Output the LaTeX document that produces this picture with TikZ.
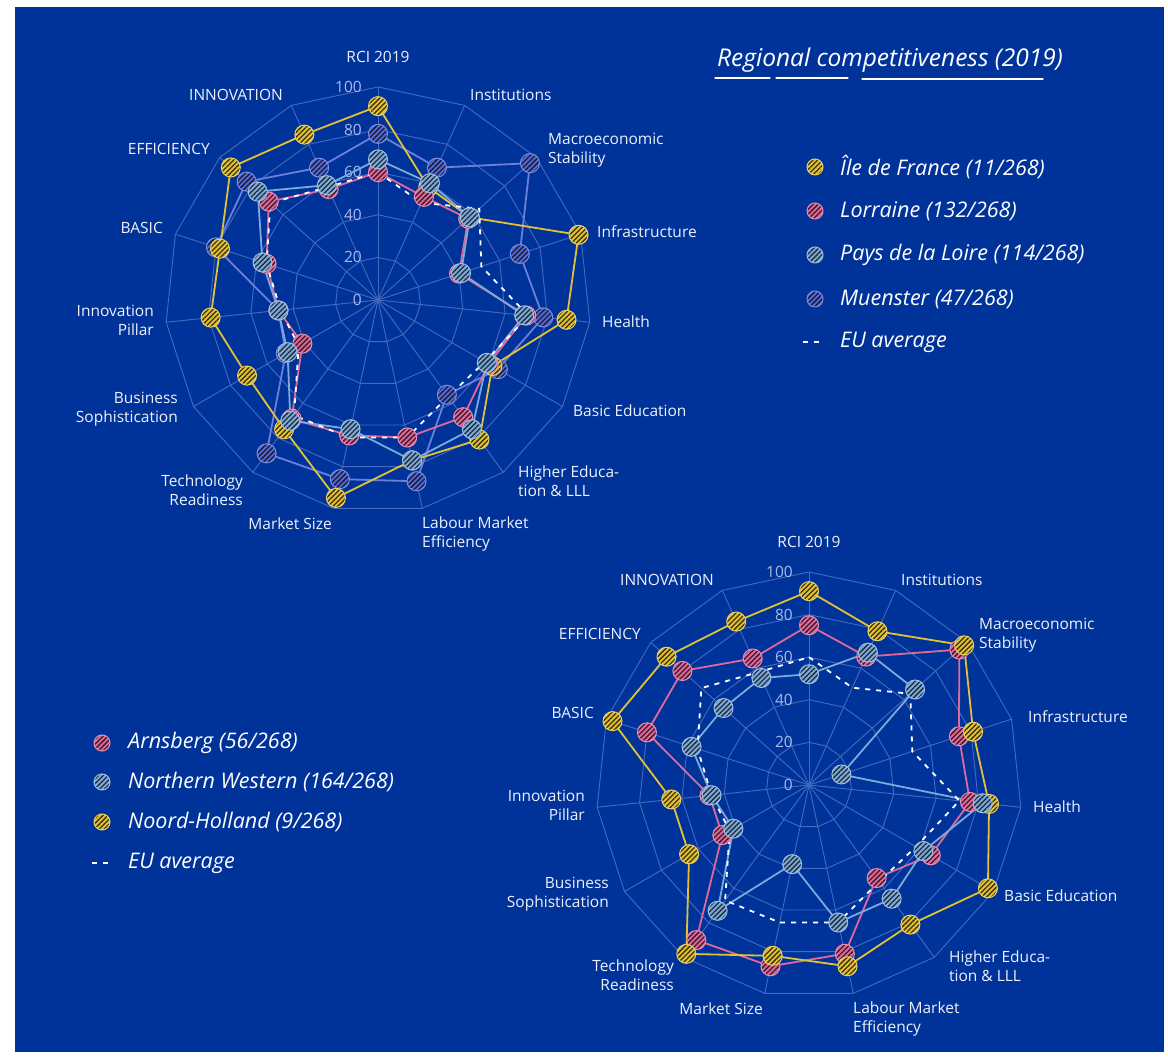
\documentclass[tikz,border=0pt]{standalone}
\usepackage{fontspec}
\setmainfont{Open Sans}
\usetikzlibrary{patterns.meta}

\definecolor{eublue}{RGB}{0,51,153}
\definecolor{gridblue}{RGB}{68,106,192}
\definecolor{tickgray}{RGB}{170,185,232}
\definecolor{labwhite}{RGB}{238,241,250}
\definecolor{idfyellow}{RGB}{226,194,52}
\definecolor{lorpink}{RGB}{224,104,154}
\definecolor{pdlblue}{RGB}{124,170,218}
\definecolor{muenblue}{RGB}{84,104,210}

\tikzset{
  gridline/.style={draw=gridblue, line width=0.9pt},
  seriesline/.style={line width=1.8pt, line join=round},
  eudash/.style={draw=white, line width=1.8pt, dash pattern=on 5pt off 6pt},
  axislabel/.style={font=\fontsize{15.5}{19}\selectfont, text=labwhite, inner sep=0pt},
  ticklabel/.style={font=\fontsize{15.5}{18}\selectfont, text=tickgray, inner sep=0pt, anchor=east},
  legendtext/.style={font=\fontsize{21.5}{24}\selectfont\itshape, text=white, inner sep=0pt, anchor=west},
  titletext/.style={font=\fontsize{24.5}{28}\selectfont\itshape, text=white, inner sep=0pt, anchor=west},
}

% 15 spokes, first one straight up, 2.13pt per index point
\newcommand{\radarpoints}[2]{%
  \foreach \v [count=\k from 0] in {#2}
    \coordinate (#1\k) at (90-24*\k:2.13*\v);
}
\newcommand{\radarline}[2]{%
  \draw[seriesline, draw=#2] (#10) \foreach \k in {1,...,14} {-- (#1\k)} -- cycle;
}
\newcommand{\hatchdot}[3][9.5pt]{%
  \fill[#2] (#3) circle[radius=#1];
  \fill[pattern={Lines[angle=45,distance=3.5pt,line width=1.3pt]}, pattern color=#2!25!black] (#3) circle[radius=#1];
  \draw[#2!75!white, line width=1pt] (#3) circle[radius=#1];
}
\newcommand{\radardots}[2]{%
  \foreach \k in {0,...,14} {\hatchdot{#2}{#1\k}}
}
\newcommand{\radarframe}[1]{%
  \foreach \r in {20,40,...,100}
    \draw[gridline] (90:2.13*\r) \foreach \k in {1,...,14} {-- (90-24*\k:2.13*\r)} -- cycle;
  \foreach \k in {0,...,14}
    \draw[gridline] (0,0) -- (90-24*\k:213);
  \foreach \r in {0,20,...,100}
    \node[ticklabel] (#1tick\r) at (-16,2.13*\r) {\r};
  \node[axislabel] (#1rci) at (0,243) {RCI 2019};
  \node[axislabel, anchor=west] (#1inst) at (92,205) {Institutions};
  \node[axislabel, anchor=west, align=left] (#1macro) at (170,150) {Macroeconomic\\Stability};
  \node[axislabel, anchor=west] (#1infra) at (219,68) {Infrastructure};
  \node[axislabel, anchor=west] (#1health) at (224,-22) {Health};
  \node[axislabel, anchor=west] (#1basiced) at (195,-111) {Basic Education};
  \node[axislabel, anchor=west, align=left] (#1higher) at (140,-181) {Higher Educa-\\tion \& LLL};
  \node[axislabel, anchor=west, align=left] (#1labour) at (44,-234) {Labour Market\\Efficiency};
  \node[axislabel, anchor=east] (#1market) at (-46,-224) {Market Size};
  \node[axislabel, anchor=east, align=right] (#1tech) at (-135,-190) {Technology\\Readiness};
  \node[axislabel, anchor=east, align=right] (#1business) at (-200,-109) {Business\\Sophistication};
  \node[axislabel, anchor=east, align=right] (#1pillar) at (-224,-20) {Innovation\\Pillar};
  \node[axislabel, anchor=east] (#1basic) at (-215,72) {BASIC};
  \node[axislabel, anchor=east] (#1efficiency) at (-168,151) {EFFICIENCY};
  \node[axislabel, anchor=east] (#1innovation) at (-95,205) {INNOVATION};
}

\begin{document}
\begin{tikzpicture}[x=1pt, y=1pt]
  \useasboundingbox (0,0) rectangle (1168,1057);
  \fill[white] (0,0) rectangle (1168,1057);
  \fill[eublue] (15,5) rectangle (1164,1050);

  % upper chart: French regions and Muenster
  \begin{scope}[shift={(378,757)}]
    \radarframe{ca-}
    \radarpoints{mue}{78,68,96,70,78,65,55,87,86,89,50,47,80,83,68}
    \radarpoints{idf}{91,58,58,99,89,62,81,77,95,75,71,79,78,93,85}
    \radarpoints{lor}{60,53,57,40,70,60,68,66,65,69,41,47,55,69,57}
    \radarpoints{pdl}{66,60,58,41,69,59,75,77,62,70,49,47,57,76,59}
    \radarpoints{eua}{60,50,64,51,71,58,56,66,66,67,43,46,55,68,58}
    \radarline{mue}{muenblue!85!white}
    \radarline{idf}{idfyellow}
    \radarline{lor}{lorpink}
    \radarline{pdl}{pdlblue}
    \draw[eudash] (eua0) \foreach \k in {1,...,14} {-- (eua\k)} -- cycle;
    \radardots{mue}{muenblue}
    \radardots{idf}{idfyellow}
    \radardots{lor}{lorpink}
    \radardots{pdl}{pdlblue}
  \end{scope}

  % lower chart: Arnsberg, Northern Western, Noord-Holland
  \begin{scope}[shift={(809,272)}]
    \radarframe{cb-}
    \radarpoints{arn}{75,66,95,74,76,66,54,81,87,90,47,47,80,80,65}
    \radarpoints{nho}{91,79,98,81,85,97,81,87,82,98,65,65,97,90,84}
    \radarpoints{nwe}{52,68,67,16,82,62,66,66,38,73,41,46,58,54,55}
    \radarpoints{eub}{60,50,64,51,71,58,56,66,66,67,43,46,55,68,58}
    \radarline{arn}{lorpink}
    \radarline{nho}{idfyellow}
    \radarline{nwe}{pdlblue}
    \draw[eudash] (eub0) \foreach \k in {1,...,14} {-- (eub\k)} -- cycle;
    \radardots{arn}{lorpink}
    \radardots{nho}{idfyellow}
    \radardots{nwe}{pdlblue}
  \end{scope}

  % title
  \node[titletext] (title) at (717,997) {Regional competitiveness (2019)};
  \draw[white, line width=1.3pt, line cap=round] (715,979) -- (770,979);
  \draw[white, line width=1.3pt, line cap=round] (776,979) -- (848,979);
  \draw[white, line width=1.3pt, line cap=round] (862,978) -- (1043,978);

  % legend, upper chart
  \hatchdot[8pt]{idfyellow}{815,890}
  \node[legendtext] (leg-idf) at (840,890) {Île de France (11/268)};
  \hatchdot[8pt]{lorpink}{815,846}
  \node[legendtext] (leg-lor) at (840,846) {Lorraine (132/268)};
  \hatchdot[8pt]{pdlblue}{815,802}
  \node[legendtext] (leg-pdl) at (840,802) {Pays de la Loire (114/268)};
  \hatchdot[8pt]{muenblue}{815,758}
  \node[legendtext] (leg-mue) at (840,758) {Muenster (47/268)};
  \draw[eudash] (803,715) -- (822,715);
  \node[legendtext] (leg-eua) at (840,715) {EU average};

  % legend, lower chart
  \hatchdot[8pt]{lorpink}{102,314}
  \node[legendtext] (leg-arn) at (128,314) {Arnsberg (56/268)};
  \hatchdot[8pt]{pdlblue}{102,275}
  \node[legendtext] (leg-nwe) at (128,275) {Northern Western (164/268)};
  \hatchdot[8pt]{idfyellow}{102,235}
  \node[legendtext] (leg-nho) at (128,235) {Noord-Holland (9/268)};
  \draw[eudash] (92,194) -- (110,194);
  \node[legendtext] (leg-eub) at (128,194) {EU average};
\end{tikzpicture}
\end{document}
